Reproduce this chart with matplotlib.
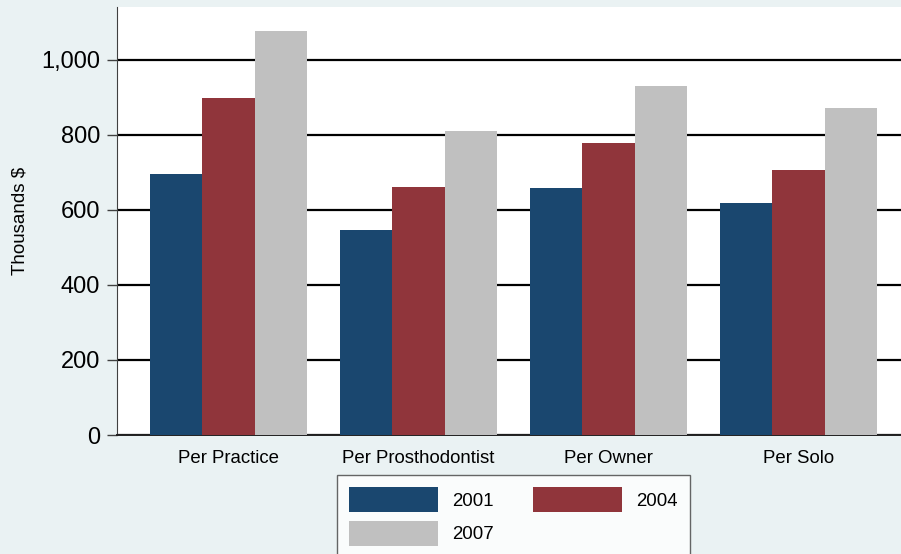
import numpy as np
import matplotlib.pyplot as plt

# Mean values (thousands of dollars) by measure and survey year
categories = ["Per Practice", "Per Prosthodontist", "Per Owner", "Per Solo"]
years = ["2001", "2004", "2007"]
vals_2001 = [695, 547, 658, 619]
vals_2004 = [899, 661, 779, 707]
vals_2007 = [1077, 811, 931, 872]
yticks = [0, 200, 400, 600, 800, 1000]
ytick_labels = ["0", "200", "400", "600", "800", "1,000"]

bg = "#EAF2F3"
colors = ["#1A476F", "#90353B", "#C0C0C0"]

plt.rcParams['font.family'] = ['Liberation Sans', 'DejaVu Sans']

fig = plt.figure(figsize=(9.01, 5.54), dpi=100, facecolor=bg)
# plot region runs slightly past the right edge of the figure
ax = fig.add_axes([117/901, 1 - 435/554, 793/901, 428/554])
ax.set_facecolor("white")

x = np.arange(len(categories))
w = 0.275
series = [vals_2001, vals_2004, vals_2007]
bars = []
for i, (vals, c) in enumerate(zip(series, colors)):
    b = ax.bar(x + (i - 1) * w, vals, width=w, color=c, zorder=3, linewidth=0)
    bars.append(b)

ax.set_xlim(-0.587, 3.587)
ax.set_ylim(0, 1141)
ax.set_yticks(yticks)
ax.set_yticklabels(ytick_labels, fontsize=17)
ax.set_xticks(x)
ax.set_xticklabels(categories, fontsize=13.4)
ax.tick_params(axis='x', length=0, pad=11)
ax.tick_params(axis='y', length=7, width=1, color="#404040", pad=5)

ax.grid(axis='y', color="black", linewidth=1.6, zorder=1)
ax.set_axisbelow(True)

for s in ["top", "right"]:
    ax.spines[s].set_visible(False)
ax.spines["left"].set_color("#404040")
ax.spines["bottom"].set_color("#202020")
ax.spines["bottom"].set_linewidth(1.4)

ax.set_ylabel("Thousands $", fontsize=13.5)
ax.yaxis.set_label_coords(-0.112, 0.5)

# column-major ordering so the legend reads 2001, 2004 / 2007
handles = [bars[0], bars[2], bars[1]]
labels = [years[0], years[2], years[1]]
leg = fig.legend(handles, labels, ncol=2, loc='upper left',
                 bbox_to_anchor=(337/901, 1 - 475/554),
                 fontsize=13.4, frameon=True, fancybox=False,
                 handlelength=4.8, handleheight=1.7, handletextpad=0.75,
                 columnspacing=2.1, labelspacing=0.45, borderpad=0.65,
                 borderaxespad=0)
leg.get_frame().set_edgecolor("#404040")
leg.get_frame().set_linewidth(1.0)

fig.savefig("out.png", dpi=100, facecolor=bg)
